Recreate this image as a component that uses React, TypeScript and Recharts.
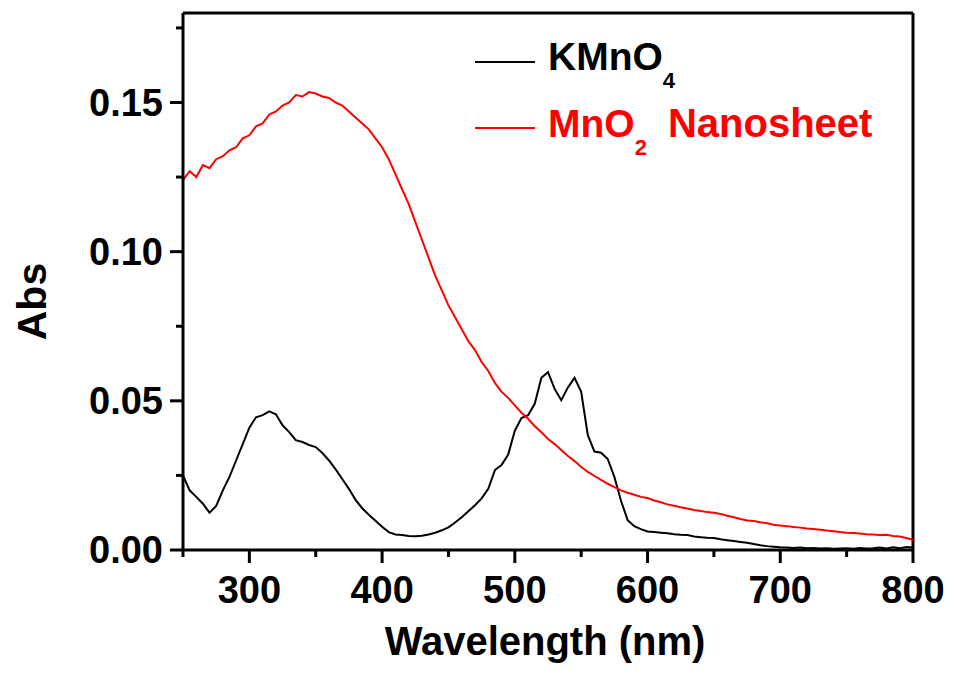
import React from 'react';
import { LineChart, Line, XAxis, YAxis, ReferenceLine, Legend } from 'recharts';

const wavelengths = [
  250, 255, 260, 265, 270, 275, 280, 285, 290, 295, 300, 305, 310, 315, 320, 325, 330, 335, 340, 345,
  350, 355, 360, 365, 370, 375, 380, 385, 390, 395, 400, 405, 410, 415, 420, 425, 430, 435, 440, 445,
  450, 455, 460, 465, 470, 475, 480, 485, 490, 495, 500, 505, 510, 515, 520, 525, 530, 535, 540, 545,
  550, 555, 560, 565, 570, 575, 580, 585, 590, 595, 600, 605, 610, 615, 620, 625, 630, 635, 640, 645,
  650, 655, 660, 665, 670, 675, 680, 685, 690, 695, 700, 705, 710, 715, 720, 725, 730, 735, 740, 745,
  750, 755, 760, 765, 770, 775, 780, 785, 790, 795, 800,
];

const kmno4 = [
  0.025, 0.020, 0.0178, 0.0155, 0.0125, 0.0148, 0.020, 0.0245, 0.030, 0.0355,
  0.041, 0.0445, 0.0452, 0.0465, 0.0455, 0.0418, 0.0395, 0.0368, 0.0362, 0.0352,
  0.0345, 0.0325, 0.0300, 0.0270, 0.0238, 0.0205, 0.0168, 0.0140, 0.0118, 0.0098,
  0.0078, 0.0060, 0.0052, 0.0050, 0.0047, 0.0046, 0.0048, 0.0052, 0.0058, 0.0066,
  0.0076, 0.0092, 0.0110, 0.0130, 0.0150, 0.0173, 0.0205, 0.0268, 0.0285, 0.0320,
  0.0400, 0.0442, 0.0452, 0.0490, 0.0577, 0.0596, 0.0540, 0.0502, 0.0545, 0.0577,
  0.0530, 0.0385, 0.0330, 0.0326, 0.0305, 0.0245, 0.0165, 0.0100, 0.0080, 0.0070,
  0.0062, 0.0060, 0.0058, 0.0056, 0.0053, 0.0051, 0.0050, 0.0045, 0.0043, 0.0041,
  0.0040, 0.0036, 0.0033, 0.0030, 0.0027, 0.0024, 0.0020, 0.0016, 0.0013, 0.0011,
  0.0009, 0.0008, 0.0007, 0.0008, 0.0006, 0.0007, 0.0005, 0.0006, 0.0004, 0.0005,
  0.0006, 0.0004, 0.0007, 0.0005, 0.0006, 0.0008, 0.0005, 0.0009, 0.0006, 0.0010,
  0.0008,
];

const mno2 = [
  0.124, 0.127, 0.125, 0.129, 0.128, 0.131, 0.132, 0.134, 0.135, 0.138,
  0.139, 0.142, 0.143, 0.146, 0.147, 0.149, 0.150, 0.1525, 0.152, 0.1535,
  0.153, 0.152, 0.1515, 0.150, 0.149, 0.147, 0.145, 0.143, 0.141, 0.138,
  0.135, 0.131, 0.126, 0.121, 0.116, 0.110, 0.104, 0.098, 0.092, 0.087,
  0.082, 0.078, 0.074, 0.070, 0.067, 0.063, 0.060, 0.056, 0.053, 0.051,
  0.0485, 0.046, 0.044, 0.0415, 0.0395, 0.0372, 0.0355, 0.0335, 0.0315, 0.0298,
  0.0278, 0.0262, 0.0248, 0.0235, 0.0222, 0.0211, 0.0200, 0.0192, 0.0185, 0.0178,
  0.0174, 0.0166, 0.0160, 0.0153, 0.0148, 0.0143, 0.0139, 0.0134, 0.0131, 0.0127,
  0.0125, 0.0121, 0.0115, 0.0110, 0.0104, 0.0099, 0.0097, 0.0093, 0.0090, 0.0085,
  0.0082, 0.0080, 0.0077, 0.0075, 0.0072, 0.0070, 0.0068, 0.0065, 0.0063, 0.0060,
  0.0058, 0.0057, 0.0055, 0.0053, 0.0052, 0.0050, 0.0051, 0.0047, 0.0045, 0.0040,
  0.0034,
];

const xTicks = [250, 300, 350, 400, 450, 500, 550, 600, 650, 700, 750, 800];
const yTicks = [0, 0.025, 0.05, 0.075, 0.1, 0.125, 0.15, 0.175];

const seriesNames = ['KMnO4', 'MnO2 Nanosheet'];
const seriesColors = ['#000000', '#ff0000'];
const legendParts = [
  { main: 'KMnO', sub: '4', rest: '' },
  { main: 'MnO', sub: '2', rest: 'Nanosheet' },
];

const data = wavelengths.map((wl, i) => ({ wl, kmno4: kmno4[i], mno2: mno2[i] }));

const FONT = '"Liberation Sans", Arial, Helvetica, sans-serif';

const XTick = (props: any) => {
  const { x, y, payload } = props;
  const major = payload.value % 100 === 0;
  return (
    <g>
      <line x1={x} x2={x} y1={y} y2={y + (major ? 13 : 7)} stroke="#000" strokeWidth={3} />
      {major && (
        <text x={x} y={y + 53} textAnchor="middle" fontFamily={FONT} fontWeight="bold" fontSize={38} fill="#000">
          {payload.value}
        </text>
      )}
    </g>
  );
};

const YTick = (props: any) => {
  const { x, y, payload } = props;
  const v = payload.value;
  const major = Math.abs(Math.round(v / 0.05) * 0.05 - v) < 1e-6;
  return (
    <g>
      <line x1={x - (major ? 13 : 7)} x2={x} y1={y} y2={y} stroke="#000" strokeWidth={3} />
      {major && (
        <text x={x - 20} y={y + 13} textAnchor="end" fontFamily={FONT} fontWeight="bold" fontSize={38} fill="#000">
          {v.toFixed(2)}
        </text>
      )}
    </g>
  );
};

const XTitle = (props: any) => {
  const vb = props.viewBox || { x: 183, y: 550, width: 730, height: 124 };
  return (
    <text x={vb.x + vb.width / 2 - 3} y={vb.y + 105} textAnchor="middle" fontFamily={FONT} fontWeight="bold" fontSize={40} fill="#000">
      Wavelength (nm)
    </text>
  );
};

const YTitle = (props: any) => {
  const vb = props.viewBox || { x: 0, y: 13, width: 183, height: 537 };
  const cx = vb.x + 46;
  const cy = vb.y + vb.height / 2 + 20;
  return (
    <text x={cx} y={cy} transform={`rotate(-90 ${cx} ${cy})`} textAnchor="middle" fontFamily={FONT} fontWeight="bold" fontSize={41} fill="#000">
      Abs
    </text>
  );
};

const renderLegend = (props: any) => {
  const payload = props.payload || [];
  return (
    <svg width={440} height={150} style={{ display: 'block', overflow: 'visible' }}>
      {payload.map((p: any, i: number) => {
        const idx = seriesNames.indexOf(p.value);
        const parts = legendParts[idx >= 0 ? idx : i];
        const color = p.color;
        const ly = 32 + 66 * i;
        const ty = 40 + 67 * i;
        return (
          <g key={p.value}>
            <line x1={0} x2={60} y1={ly} y2={ly} stroke={color} strokeWidth={2} />
            <text x={73} y={ty} fontFamily={FONT} fontWeight="bold" fontSize={39} fill={color}>
              {parts.main}
              <tspan fontSize={22} dy={18}>{parts.sub}</tspan>
              {parts.rest && (
                <tspan dy={-18} dx={21} fontSize={40}>{parts.rest}</tspan>
              )}
            </text>
          </g>
        );
      })}
    </svg>
  );
};

export default function App() {
  return (
    <div style={{ width: 953, height: 674, background: '#fff' }}>
      <style>{'body{margin:0;background:#fff;}'}</style>
      <LineChart width={953} height={674} data={data} margin={{ top: 13, right: 40, bottom: 0, left: 0 }}>
        <XAxis
          dataKey="wl"
          type="number"
          domain={[250, 800]}
          ticks={xTicks}
          interval={0}
          height={124}
          tickSize={0}
          tickMargin={0}
          tickLine={false}
          tick={<XTick />}
          axisLine={{ stroke: '#000', strokeWidth: 3 }}
          allowDataOverflow
          label={<XTitle />}
        />
        <YAxis
          type="number"
          domain={[0, 0.18]}
          ticks={yTicks}
          interval={0}
          width={183}
          tickSize={0}
          tickMargin={0}
          tickLine={false}
          tick={<YTick />}
          axisLine={{ stroke: '#000', strokeWidth: 3 }}
          allowDataOverflow
          label={<YTitle />}
        />
        <ReferenceLine y={0.18} stroke="#000" strokeWidth={3} />
        <ReferenceLine x={800} stroke="#000" strokeWidth={3} />
        <Legend
          verticalAlign="middle"
          align="center"
          layout="horizontal"
          content={renderLegend}
          wrapperStyle={{ left: 475, top: 30, width: 440, height: 150 }}
        />
        <Line
          type="linear"
          dataKey="kmno4"
          name={seriesNames[0]}
          stroke={seriesColors[0]}
          strokeWidth={2}
          dot={false}
          isAnimationActive={false}
        />
        <Line
          type="linear"
          dataKey="mno2"
          name={seriesNames[1]}
          stroke={seriesColors[1]}
          strokeWidth={2}
          dot={false}
          isAnimationActive={false}
        />
      </LineChart>
    </div>
  );
}
